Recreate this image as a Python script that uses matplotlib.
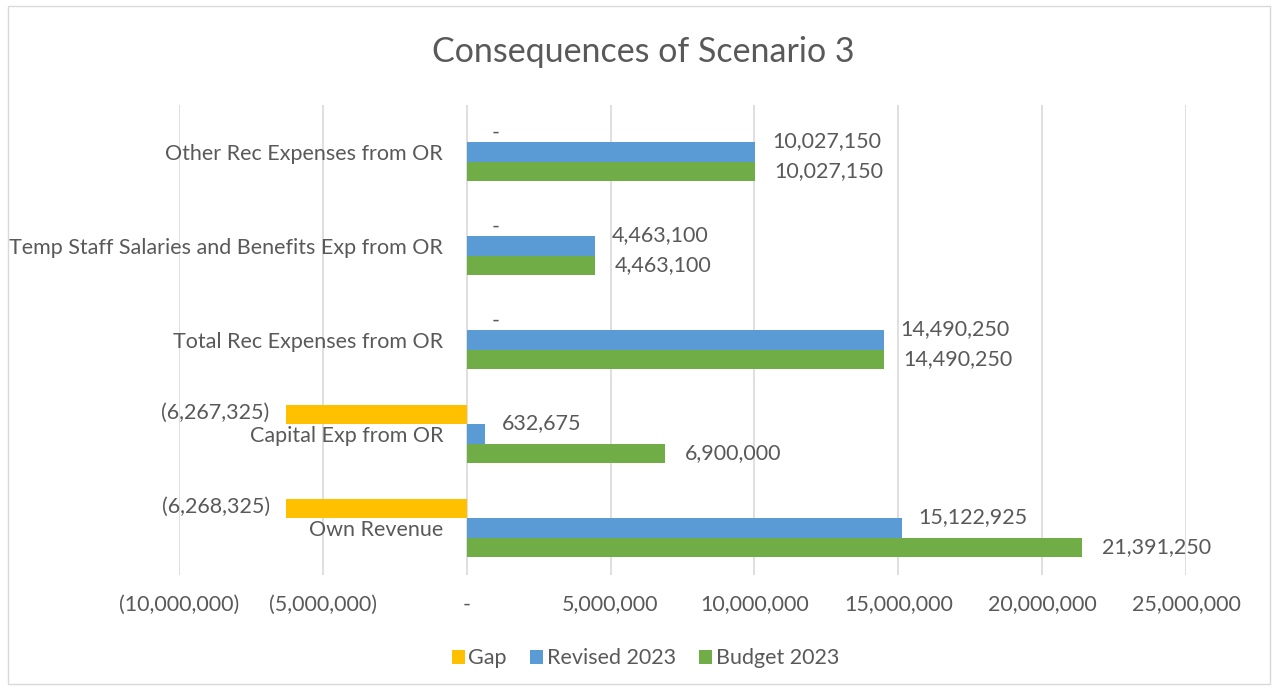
import matplotlib
matplotlib.use('Agg')
import matplotlib.pyplot as plt
import numpy as np
from matplotlib.patches import Rectangle
from matplotlib.ticker import FuncFormatter

# dados do grafico (de baixo para cima)
categorias = ['Own Revenue', 'Capital Exp from OR', 'Total Rec Expenses from OR',
              'Temp Staff Salaries and Benefits Exp from OR', 'Other Rec Expenses from OR']
gap = [-6268325, -6267325, 0, 0, 0]
revised_2023 = [15122925, 632675, 14490250, 4463100, 10027150]
budget_2023 = [21391250, 6900000, 14490250, 4463100, 10027150]

cor_texto = '#595959'
fs = 15.5
plt.rcParams['font.family'] = ['Lato', 'DejaVu Sans']


def fmt(v):
    if v == 0:
        return '-'
    if v < 0:
        return '({:,.0f})'.format(-v)
    return '{:,.0f}'.format(v)


fig = plt.figure(figsize=(12.78, 6.9), dpi=100)
ax = fig.add_axes([0.140, 0.1667, 0.788, 0.681])

y = np.arange(len(categorias))
h = 0.207
series = [('Gap', gap, '#FFC000', h),
          ('Revised 2023', revised_2023, '#5B9BD5', 0),
          ('Budget 2023', budget_2023, '#70AD47', -h)]

for nome, vals, cor, off in series:
    barras = ax.barh(y + off, vals, height=h, color=cor, label=nome, zorder=3)
    for b, v in zip(barras, vals):
        yc = b.get_y() + b.get_height() / 2
        if nome == 'Gap':
            if v == 0:
                ax.annotate('-', (0, yc), xytext=(18, 0), textcoords='offset points',
                            ha='left', va='center', fontsize=fs, color=cor_texto)
            else:
                ax.annotate(fmt(v), (v, yc), xytext=(-12, 1), textcoords='offset points',
                            ha='right', va='center', fontsize=fs, color=cor_texto)
        elif nome == 'Revised 2023':
            ax.annotate(fmt(v), (v, yc), xytext=(12, 8), textcoords='offset points',
                        ha='left', va='center', fontsize=fs, color=cor_texto)
        else:
            ax.annotate(fmt(v), (v, yc), xytext=(14, 0), textcoords='offset points',
                        ha='left', va='center', fontsize=fs, color=cor_texto)

ax.set_xlim(-10000000, 25000000)
ax.set_ylim(-0.5, len(categorias) - 0.5)
ax.set_xticks(np.arange(-10000000, 25000001, 5000000))
ax.xaxis.set_major_formatter(FuncFormatter(lambda v, p: fmt(v)))
ax.grid(axis='x', color='#d9d9d9', linewidth=1.2, zorder=0)

# eixo das categorias fica no zero
ax.spines['left'].set_position(('data', 0))
ax.spines['left'].set_color('none')
for s in ['top', 'right', 'bottom']:
    ax.spines[s].set_visible(False)
ax.set_yticks(y)
ax.set_yticklabels(categorias)
ax.tick_params(axis='y', length=0, pad=17, labelsize=fs, labelcolor=cor_texto)
ax.tick_params(axis='x', length=0, pad=14, labelsize=fs, labelcolor=cor_texto)

fig.text(0.503, 0.925, 'Consequences of Scenario 3', ha='center', va='center',
         fontsize=24.5, color=cor_texto)

handles, labels = ax.get_legend_handles_labels()
fig.legend(handles, labels, loc='center', bbox_to_anchor=(0.505, 0.046), ncol=3,
           frameon=False, fontsize=fs, labelcolor=cor_texto, handlelength=0.6,
           handleheight=0.6, handletextpad=0.16, columnspacing=1.1)

fig.patches.append(Rectangle((0.006, 0.008), 0.988, 0.984, transform=fig.transFigure,
                             fill=False, edgecolor='#d9d9d9', linewidth=1))

fig.savefig('out.png', dpi=100)
